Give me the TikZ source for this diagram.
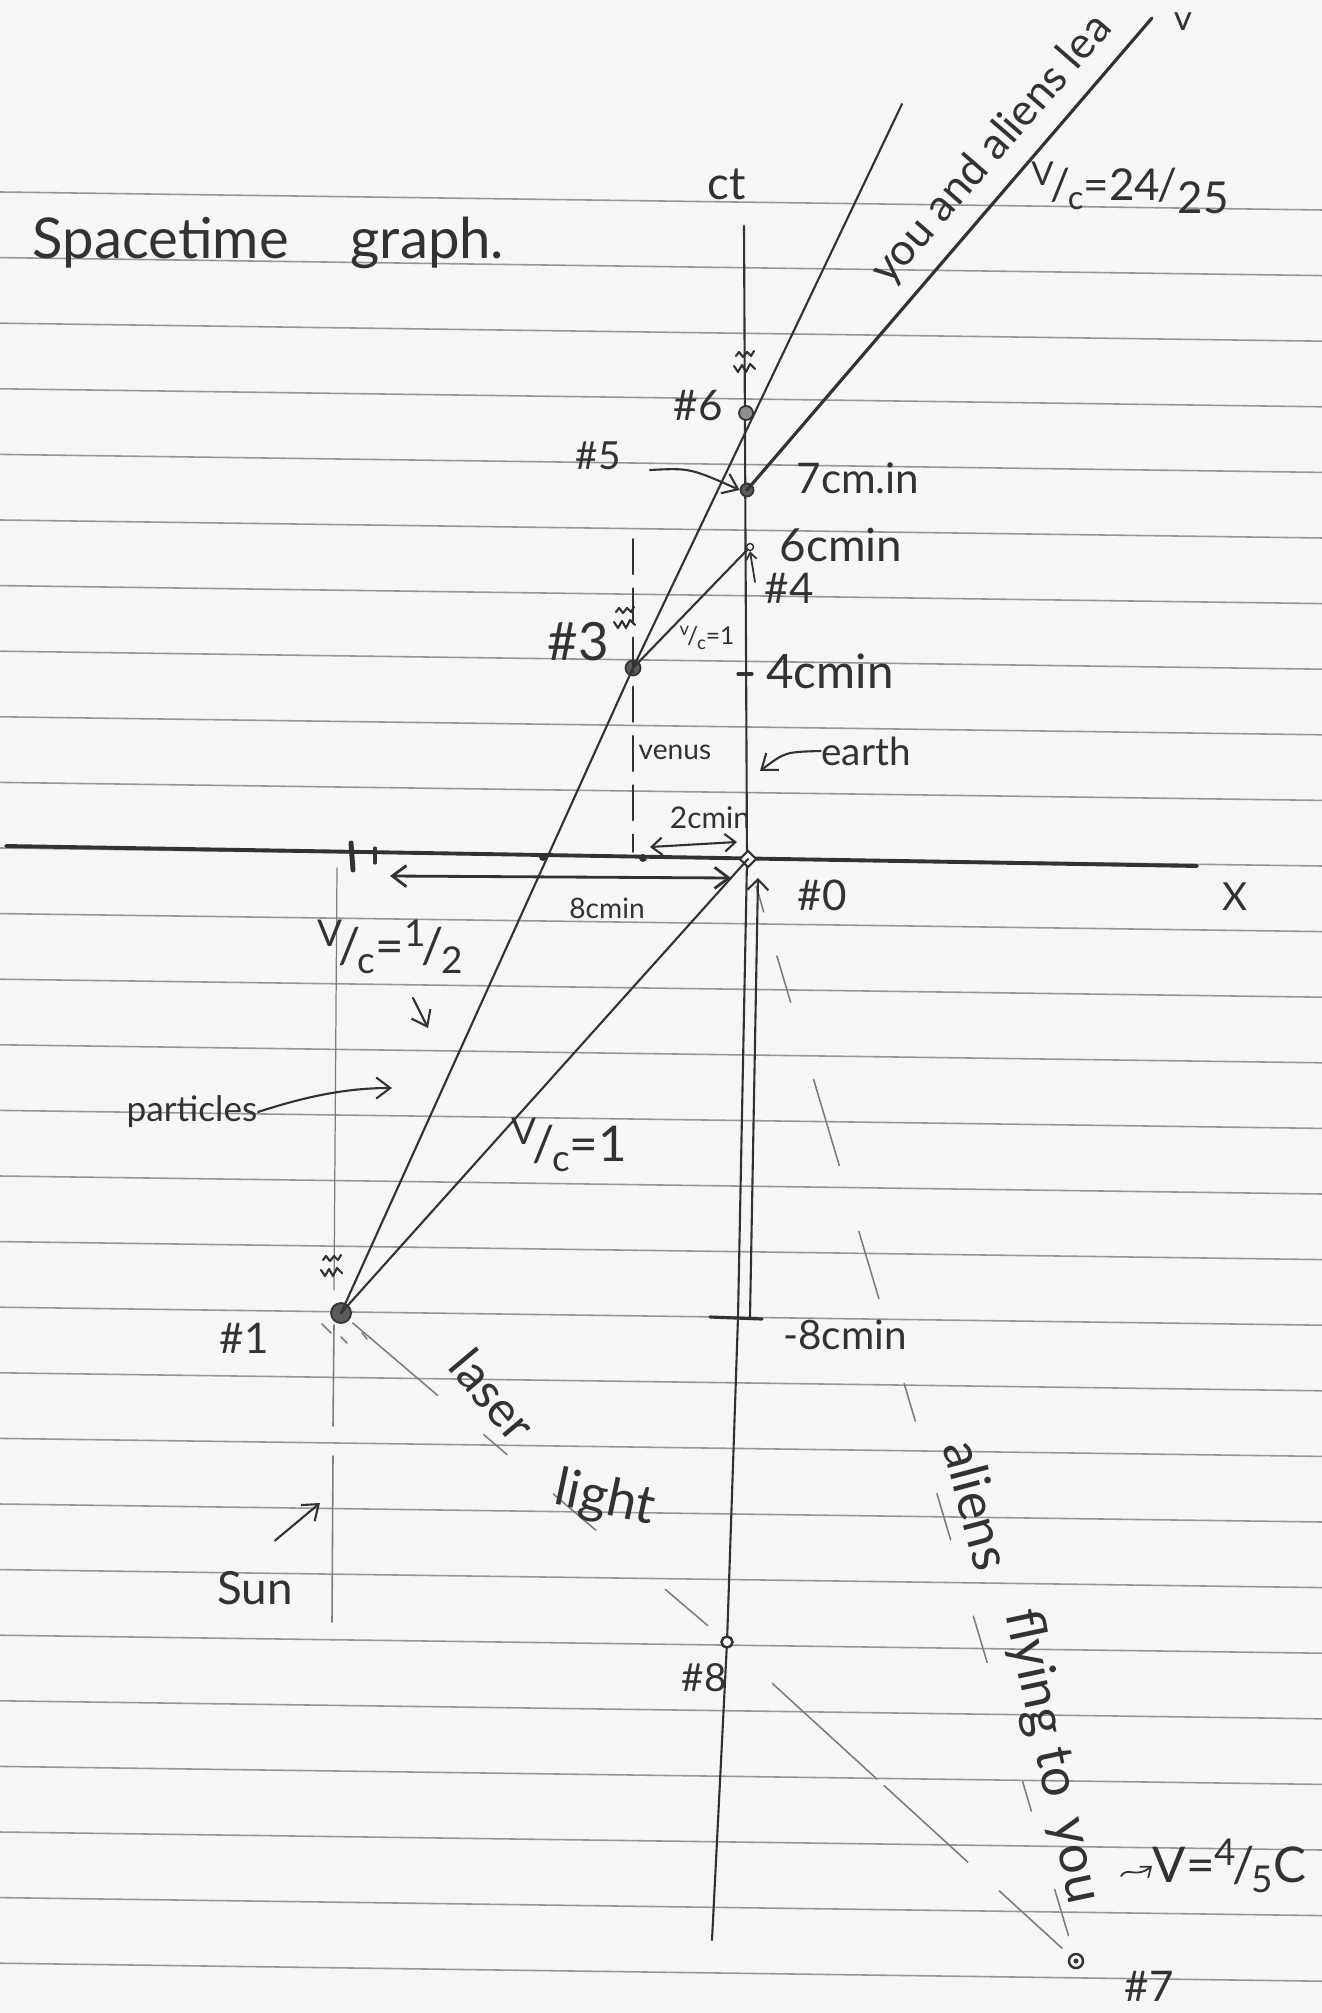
\documentclass[tikz,border=0pt]{standalone}
\usepackage{fontspec}
\setmainfont{Lato}
\usetikzlibrary{calc,arrows.meta,shapes.geometric}
\definecolor{paper}{RGB}{246,246,246}
\definecolor{rulec}{RGB}{150,150,150}
\definecolor{ink}{RGB}{50,50,50}
\definecolor{faint}{RGB}{125,125,125}
\newcommand\hwfrac[2]{\raisebox{0.35em}{\scalebox{0.75}{#1}}\kern-0.08em/\kern-0.05em\raisebox{-0.2em}{\scalebox{0.75}{#2}}}
\tikzset{
  lbl/.style={text=ink, inner sep=0pt, font=\fontsize{#1}{#1}\selectfont},
  pencil/.style={draw=ink, line width=0.6pt, line cap=round, line join=round},
  heavy/.style={draw=ink, line width=0.9pt, line cap=round, line join=round},
  faintline/.style={draw=faint, line width=0.45pt, line cap=round},
  ruled/.style={draw=rulec, line width=0.45pt},
  barb/.style={-{Straight Barb[length=4pt,width=6pt]}},
  dbarb/.style={{Straight Barb[length=4pt,width=6pt]}-{Straight Barb[length=4pt,width=6pt]}},
  evt/.style={circle, draw=ink, fill=ink!80, inner sep=0pt, line width=0.5pt},
  ring/.style={circle, draw=ink, fill=paper, inner sep=0pt, line width=0.7pt},
  flash/.pic={
    \draw[ink, line width=0.6pt, line cap=round, line join=round]
      (-9,-6) -- (-6,-10) -- (-2,-5) -- (2,-10) -- (6,-6) -- (9,-11);
    \draw[ink, line width=0.6pt, line cap=round, line join=round]
      (-11,4) -- (-7,10) -- (-3,3) -- (1,10) -- (5,2) -- (10,7);
  }
}
\begin{document}
\begin{tikzpicture}[x=0.01cm,y=-0.01cm]
\fill[paper] (0,0) rectangle (1322,2013);
\useasboundingbox (0,0) rectangle (1322,2013);
% ruled paper
\foreach \k in {0,...,27} { \draw[ruled] (0,{192+65.6*\k}) -- (1322,{210+65.6*\k}); }

% coordinates
\coordinate (ctTop) at (744,226);
\coordinate (ctA) at (747,860);
\coordinate (ctB) at (738,1317);
\coordinate (ctC) at (727,1642);
\coordinate (ctBot) at (712,1940);
\coordinate (xL) at (6,846);
\coordinate (xR) at (1197,866);
\coordinate (partTop) at (902,104);
\coordinate (youTop) at (1152,18);
\coordinate (venTop) at (633,539);
\coordinate (venBot) at (633,852);

% axes
\draw[pencil] (ctTop) -- (ctA) -- (ctB) -- (ctC) -- (ctBot);
\draw[heavy, line width=1.1pt] (xL) -- (xR);

% events
\node[evt, minimum size=0.2cm] (n1) at (341,1313) {};
\node[evt, minimum size=0.15cm] (n3) at (633,668) {};
\node[circle, draw=ink, inner sep=0pt, minimum size=0.07cm] (n4) at (750,547) {};
\node[evt, minimum size=0.13cm] (n5) at (747,490) {};
\node[evt, fill=ink!55, minimum size=0.14cm] (n6) at (746,413) {};
\node[diamond, draw=ink, fill=paper, inner sep=0pt, minimum size=0.17cm, line width=0.6pt] (n0) at (748,859) {};
\node[ring, minimum size=0.11cm] (n8) at (727,1642) {};
\node[ring, minimum size=0.14cm] (n7) at (1076,1961) {};
\fill[ink] (n7.center) circle (2.5);

% world lines
\draw[pencil] (n1.center) -- (n3.center) -- (partTop);
\draw[pencil] (n1.center) -- (n0.center);
\draw[pencil] (n3.center) -- (n4);
\draw[heavy] (n5.center) -- (youTop);
% venus dashed
\draw[pencil, line width=0.5pt, dash pattern=on 10pt off 4pt] (venTop) -- (venBot);
% sun line (faint)
\draw[faintline, line width=0.35pt] (337,868) -- (334,1290);
\draw[faintline] (334,1325) -- (333,1426);
\draw[faintline] (333,1456) -- (332,1622);
% aliens flying (dashed, faint)
\foreach \a/\b in {0.025/0.048,0.088/0.130,0.200/0.278,0.338/0.399,0.476/0.510,0.576/0.618,0.687/0.729,0.837/0.864,0.935/0.977}
  \draw[faintline] ($(n0.center)!\a!(n7.center)$) -- ($(n0.center)!\b!(n7.center)$);
% laser light (dashed, faint)
\foreach \a/\b in {0.03/0.25,0.37/0.43,0.55/0.66,0.84/0.95}
  \draw[faintline] ($(n1.center)!\a!(n8.center)$) -- ($(n1.center)!\b!(n8.center)$);
\foreach \a/\b in {0.13/0.43,0.45/0.69,0.78/0.96}
  \draw[faintline] ($(n8.center)!\a!(n7.center)$) -- ($(n8.center)!\b!(n7.center)$);
% rays round the sun event
\draw[faintline] (322,1324) -- (331,1333);
\draw[faintline] (341,1337) -- (347,1343);
\draw[faintline] (362,1333) -- (367,1339);

% flashes
\pic at (745,362) {flash};
\pic at (625,618) {flash};
\pic at (332,1266) {flash};

% ticks on axes
\draw[heavy, line width=1.4pt] (351,843) -- (353,870);
\draw[pencil, line width=0.9pt] (375,848) -- (375,863);
\fill[ink] (543,857) circle (4);
\fill[ink] (643,858) circle (4);
\draw[pencil, line width=0.9pt] (738,674) -- (752,674);

% measurement arrows
\coordinate (e8L) at (390,876);
\coordinate (e8R) at (731,878);
\draw[pencil, line width=0.8pt, dbarb] (e8L) -- (e8R);
\coordinate (e2L) at (650,847);
\coordinate (e2R) at (737,842);
\draw[pencil, {Straight Barb[length=3pt,width=5pt]}-{Straight Barb[length=3pt,width=5pt]}] (e2L) -- (e2R);
\coordinate (vTop) at (758,878);
\coordinate (vBot) at (750,1317);
\draw[pencil, {Straight Barb[length=3pt,width=6pt]}-] (vTop) -- (vBot);
\coordinate (barL) at (710,1317);
\coordinate (barR) at (762,1319);
\draw[heavy] (barL) -- (barR);

% labels
\node[lbl=16pt, anchor=base west] (title1) at (32,259) {Spacetime};
\node[lbl=16pt, anchor=base west] (title2) at (350,259) {graph.};
\node[lbl=13pt] (ctl) at (727,184) {ct};
\node[lbl=11pt] (xl) at (1235,897) {X};
\node[lbl=12pt] (l6) at (698,406) {\#6};
\node[lbl=11pt] (l5) at (598,456) {\#5};
\node[lbl=12pt] (t7) at (858,478) {7cm.in};
\node[lbl=13pt] (t6) at (841,545) {6cmin};
\node[lbl=12pt] (l4) at (789,588) {\#4};
\node[lbl=15pt] (l3) at (578,642) {\#3};
\node[lbl=7pt] (vc1s) at (707,638) {\hwfrac{v}{c}=1};
\node[lbl=13.5pt] (t4) at (830,671) {4cmin};
\node[lbl=8pt] (venus) at (675,752) {venus};
\node[lbl=11pt] (earth) at (866,751) {earth};
\node[lbl=8.5pt] (t2) at (710,818) {2cmin};
\node[lbl=12pt] (l0) at (822,895) {\#0};
\node[lbl=8pt] (t8) at (607,908) {8cmin};
\node[lbl=14pt] (vchalf) at (390,947) {\hwfrac{V}{c}=\hwfrac{1}{2}};
\node[lbl=10pt] (particles) at (192,1112) {particles};
\node[lbl=14pt] (vc1) at (569,1145) {\hwfrac{V}{c}=1};
\node[lbl=11.5pt] (tm8) at (845,1335) {-8cmin};
\node[lbl=12pt] (l1) at (244,1338) {\#1};
\node[lbl=14pt, rotate=-50] (laser) at (493,1395) {laser};
\node[lbl=15pt, rotate=-12] (light) at (605,1500) {light};
\node[lbl=13pt] (sun) at (255,1588) {Sun};
\node[lbl=11pt] (l8) at (704,1678) {\#8};
\node[lbl=15pt, rotate=-75] (al1) at (978,1505) {aliens};
\node[lbl=15pt, rotate=-78] (al2) at (1033,1673) {flying};
\node[lbl=15pt, rotate=-78] (al3) at (1058,1772) {to};
\node[lbl=15pt, rotate=-78] (al4) at (1070,1862) {you};
\node[lbl=14pt, anchor=west] (v45) at (1152,1866) {V=\hwfrac{4}{5}C};
\node[lbl=12pt] (l7) at (1149,1986) {\#7};
\node[lbl=12.5pt, rotate=49] (youal) at (992,150) {you and aliens lea};
\node[lbl=10pt] (vv) at (1183,22) {v};
\node[lbl=12.5pt] (vc2425) at (1130,188) {\hwfrac{V}{c}=24\kern-0.05em/\raisebox{-0.3em}{25}};

% pointer arrows
\draw[pencil, barb] (650,470) .. controls (690,468) .. (n5.west);
\draw[pencil, line width=0.5pt, -{Straight Barb[length=2pt,width=3pt]}] (755,582) -- (n4.south);
\draw[pencil, barb] (earth.west) .. controls (785,752) .. (760,771);
\draw[pencil, barb] (413,998) -- (428,1028);
\draw[pencil, barb] (particles.east) .. controls (310,1095) and (350,1088) .. (392,1088);
\draw[pencil, barb] (sun.north) ++(20,-30) -- (320,1503);
\draw[pencil, line width=0.5pt, -{Straight Barb[length=2.5pt,width=4pt]}] (1121,1876) .. controls (1128,1866) and (1135,1879) .. (v45.west);
\end{tikzpicture}
\end{document}
